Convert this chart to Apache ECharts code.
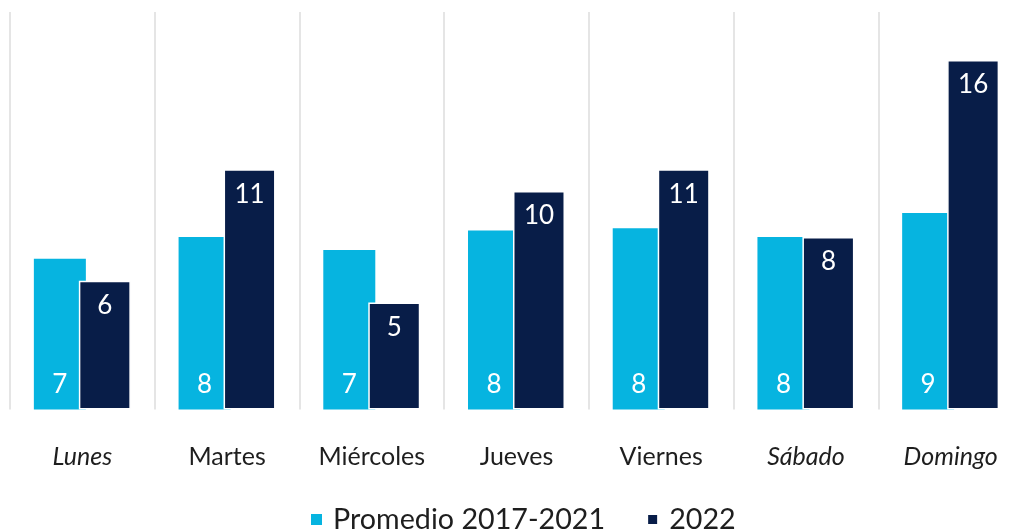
<!DOCTYPE html>
<html>
<head>
<meta charset="utf-8">
<script src="https://cdn.jsdelivr.net/npm/echarts@6/dist/echarts.min.js"></script>
<style>
  html, body { margin: 0; padding: 0; background: #ffffff; overflow: hidden; }
  /* the last band runs a few pixels past the visible edge */
  #chart { width: 1023px; height: 529px; }
</style>
</head>
<body>
<div id="chart"></div>
<script>
// Days of the week
const categories = ['Lunes', 'Martes', 'Miércoles', 'Jueves', 'Viernes', 'Sábado', 'Domingo'];
// Days drawn in italic on the axis
const italicDays = ['Lunes', 'Sábado', 'Domingo'];
// Series names
const seriesNames = ['Promedio 2017-2021', '2022'];
// Average 2017-2021 per weekday
const promedio = [6.9, 7.9, 7.3, 8.2, 8.3, 7.9, 9.0];
// 2022 per weekday
const year2022 = [5.9, 11.0, 4.9, 10.0, 11.0, 7.9, 16.0];

const FONT = 'Lato, "Open Sans", "Noto Sans", sans-serif';
const LIGHT = '#06B4E0';
const DARK = '#081D48';
const TEXT = '#1e1e1e';

const chart = echarts.init(document.getElementById('chart'), null, { renderer: 'canvas' });

chart.setOption({
  animation: false,
  backgroundColor: '#ffffff',
  textStyle: { fontFamily: FONT },
  grid: { left: 10, top: 12, right: 0, bottom: 119.5, containLabel: false },
  legend: {
    data: seriesNames,
    left: 306,
    top: 500,
    icon: 'rect',
    itemWidth: 11,
    itemHeight: 11,
    itemGap: 41,
    textStyle: { fontFamily: FONT, fontSize: 28.7, color: TEXT, padding: [0, 0, 0, 6] }
  },
  xAxis: {
    type: 'category',
    data: categories,
    axisLine: { show: false },
    axisTick: { show: false },
    splitLine: { show: true, interval: 0, lineStyle: { color: '#dddddd', width: 1.5 } },
    axisLabel: {
      interval: 0,
      margin: 35,
      fontFamily: FONT,
      fontSize: 25,
      color: TEXT,
      formatter: function (v) {
        return italicDays.indexOf(v) >= 0 ? '{it|' + v + '}' : v;
      },
      rich: {
        it: { fontFamily: FONT, fontSize: 25, color: TEXT, fontStyle: 'italic' }
      }
    }
  },
  yAxis: {
    type: 'value',
    min: 0,
    max: 18.2,
    show: false,
    splitLine: { show: false }
  },
  series: [
    {
      name: seriesNames[0],
      type: 'bar',
      data: promedio,
      barWidth: 52,
      barGap: '-13.5%',
      itemStyle: { color: LIGHT },
      label: {
        show: true,
        position: 'insideBottom',
        distance: 12,
        color: '#ffffff',
        fontFamily: FONT,
        fontSize: 26,
        formatter: function (p) { return Math.round(p.value); }
      }
    },
    {
      name: seriesNames[1],
      type: 'bar',
      data: year2022,
      barWidth: 52,
      itemStyle: { color: DARK, borderColor: '#ffffff', borderWidth: 1.5 },
      label: {
        show: true,
        position: 'insideTop',
        distance: 12,
        color: '#ffffff',
        fontFamily: FONT,
        fontSize: 26,
        formatter: function (p) { return Math.round(p.value); }
      }
    }
  ]
});
</script>
</body>
</html>
